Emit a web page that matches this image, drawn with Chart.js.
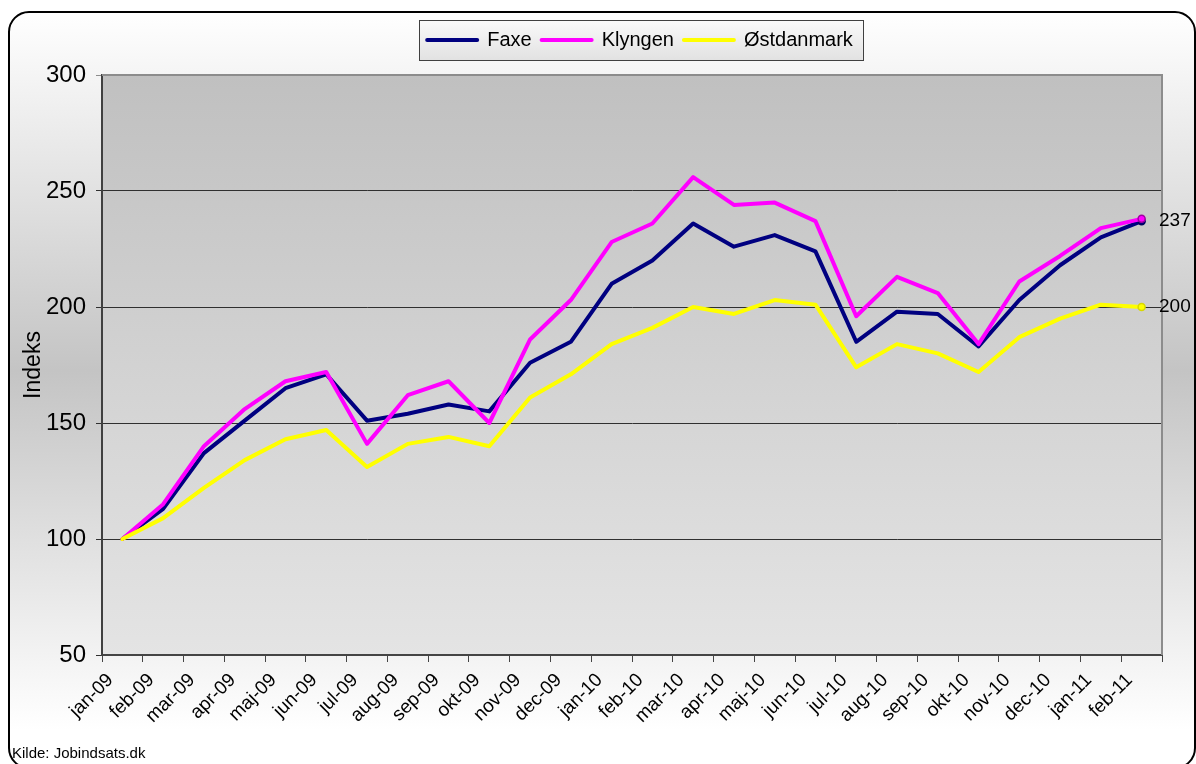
<!DOCTYPE html>
<html><head><meta charset="utf-8">
<script src="https://cdn.jsdelivr.net/npm/chart.js@4"></script>
<style>html,body{margin:0;padding:0;background:#fff;} canvas{display:block;}</style>
</head><body>
<canvas id="c" width="1196" height="764"></canvas>
<script>
const categories = ['jan-09','feb-09','mar-09','apr-09','maj-09','jun-09','jul-09','aug-09','sep-09','okt-09','nov-09','dec-09','jan-10','feb-10','mar-10','apr-10','maj-10','jun-10','jul-10','aug-10','sep-10','okt-10','nov-10','dec-10','jan-11','feb-11'];
const faxe = [100,113,137,151,165,171,151,154,158,155,176,185,210,220,236,226,231,224,185,198,197,183,203,218,230,237];
const klyngen = [100,115,140,156,168,172,141,162,168,150,186,203,228,236,256,244,245,237,196,213,206,184,211,222,234,238];
const ostdanmark = [100,109,122,134,143,147,131,141,144,140,161,171,184,191,200,197,203,201,174,184,180,172,187,195,201,200];
const yTicks = [50,100,150,200,250,300];
const seriesNames = ['Faxe','Klyngen','Østdanmark'];
const yTitle = 'Indeks';
const sourceText = 'Kilde: Jobindsats.dk';
const labelledSeries = [0, 2];

const FONT = "'Liberation Sans', Arial, sans-serif";
const LEG_PAD = 10;

function legendStartX(lg) {
  return (lg.left + lg.right + LEG_PAD - lg.lineWidths[0]) / 2;
}

const bgPlugin = {
  id: 'bg',
  afterLayout(chart) {
    const lg = chart.legend;
    if (!lg) return;
    const dy = 20 - lg.top;
    const dx = 8;
    lg.top += dy; lg.bottom += dy; lg.left += dx; lg.right += dx;
  },
  beforeDraw(chart) {
    const ctx = chart.ctx; const W = chart.width, H = chart.height;
    ctx.save();
    ctx.fillStyle = '#fff'; ctx.fillRect(0, 0, W, H);
    const x = 9, y = 12, w = 1186, h = 756, r = 20;
    ctx.beginPath(); ctx.roundRect(x, y, w, h, r);
    const g = ctx.createLinearGradient(0, y, 0, 730);
    g.addColorStop(0, '#ffffff'); g.addColorStop(0.5, '#c4c4c4'); g.addColorStop(1, '#ffffff');
    ctx.fillStyle = g; ctx.fill();
    ctx.lineWidth = 2; ctx.strokeStyle = '#000'; ctx.stroke();
    const a = chart.chartArea;
    const pg = ctx.createLinearGradient(0, a.top, 0, a.bottom);
    pg.addColorStop(0, '#c0c0c0'); pg.addColorStop(1, '#e4e4e4');
    ctx.fillStyle = pg; ctx.fillRect(a.left, a.top, a.right - a.left, a.bottom - a.top);
    const lg = chart.legend;
    if (lg && lg.lineWidths) {
      const sx = legendStartX(lg);
      const l = sx - 8, rr = sx + lg.lineWidths[0] - LEG_PAD + 10;
      const t = lg.top, b = lg.top + 40;
      const lgG = ctx.createLinearGradient(0, t, 0, b);
      lgG.addColorStop(0, '#fafafa'); lgG.addColorStop(1, '#e2e2e2');
      ctx.fillStyle = lgG; ctx.fillRect(l, t, rr - l, b - t);
      ctx.lineWidth = 1; ctx.strokeStyle = '#404040';
      ctx.strokeRect(Math.round(l) + 0.5, t + 0.5, Math.round(rr - l), b - t);
    }
    ctx.restore();
  },
  beforeDatasetsDraw(chart) {
    const ctx = chart.ctx; const a = chart.chartArea;
    ctx.save();
    ctx.strokeStyle = '#8c8c8c'; ctx.lineWidth = 2;
    ctx.beginPath();
    ctx.moveTo(a.left, a.top); ctx.lineTo(a.right, a.top); ctx.lineTo(a.right, a.bottom);
    ctx.stroke();
    ctx.restore();
  },
  afterDatasetsDraw(chart) {
    const ctx = chart.ctx; const a = chart.chartArea;
    ctx.save();
    ctx.font = '19px ' + FONT; ctx.fillStyle = '#000';
    ctx.textBaseline = 'middle'; ctx.textAlign = 'left';
    labelledSeries.forEach(i => {
      const meta = chart.getDatasetMeta(i);
      const data = chart.data.datasets[i].data;
      const pt = meta.data[meta.data.length - 1];
      ctx.fillText(String(Math.round(data[data.length - 1])), a.right - 3, pt.y);
    });
    ctx.font = '15px ' + FONT; ctx.textBaseline = 'alphabetic';
    ctx.fillText(sourceText, 12, 758);
    ctx.restore();
  }
};

const lastIdx = categories.length - 1;
function mkSet(label, data, color, border, order) {
  return {
    label, data, borderColor: color, backgroundColor: color,
    borderWidth: 4, tension: 0, order,
    borderCapStyle: 'round', borderJoinStyle: 'round',
    pointRadius: c => c.dataIndex === lastIdx ? 3.5 : 0,
    pointBorderColor: border, pointBorderWidth: 1.5, pointHoverRadius: 0
  };
}

new Chart(document.getElementById('c'), {
  type: 'line',
  data: {
    labels: categories,
    datasets: [
      mkSet(seriesNames[0], faxe, '#000080', '#000060', 3),
      mkSet(seriesNames[1], klyngen, '#ff00ff', '#a000a0', 2),
      mkSet(seriesNames[2], ostdanmark, '#ffff00', '#d8d800', 1)
    ]
  },
  options: {
    responsive: false, animation: false, devicePixelRatio: 1,
    layout: { padding: { top: 35, right: 34, left: 0, bottom: 0 } },
    plugins: {
      tooltip: { enabled: false },
      legend: {
        position: 'top', fullSize: false,
        labels: {
          usePointStyle: true, pointStyle: 'line', pointStyleWidth: 50,
          padding: LEG_PAD, color: '#000', font: { family: FONT, size: 20 },
          sort: (a, b) => a.datasetIndex - b.datasetIndex,
          generateLabels(chart) {
            const items = Chart.defaults.plugins.legend.labels.generateLabels(chart);
            items.forEach(it => {
              const ds = chart.data.datasets[it.datasetIndex];
              it.lineWidth = 4; it.strokeStyle = ds.borderColor; it.fillStyle = ds.borderColor; it.lineCap = 'round';
            });
            return items;
          }
        }
      }
    },
    scales: {
      x: {
        type: 'category', offset: true,
        grid: { offset: true, drawOnChartArea: false, drawTicks: true, tickLength: 7, color: '#444', lineWidth: 1 },
        border: { display: true, color: '#444', width: 2 },
        ticks: { autoSkip: false, minRotation: 45, maxRotation: 45, color: '#000', padding: 7, labelOffset: -12,
                 font: { family: FONT, size: 19 } },
        afterFit(s) { s.height = 109; }
      },
      y: {
        min: 50, max: 300,
        afterBuildTicks(s) { s.ticks = yTicks.map(v => ({ value: v })); },
        ticks: { color: '#000', padding: 10, font: { family: FONT, size: 24 } },
        grid: { color: c => (c.tick && c.tick.value === 300) ? '#8c8c8c' : '#303030', lineWidth: 1, tickLength: 6, drawTicks: true },
        border: { color: '#404040', width: 2 },
        title: { display: true, text: yTitle, color: '#000', font: { family: FONT, size: 23 }, padding: { top: 20, bottom: 0 } },
        afterFit(s) { s.width = 102; }
      }
    }
  },
  plugins: [bgPlugin]
});
</script>
</body></html>
